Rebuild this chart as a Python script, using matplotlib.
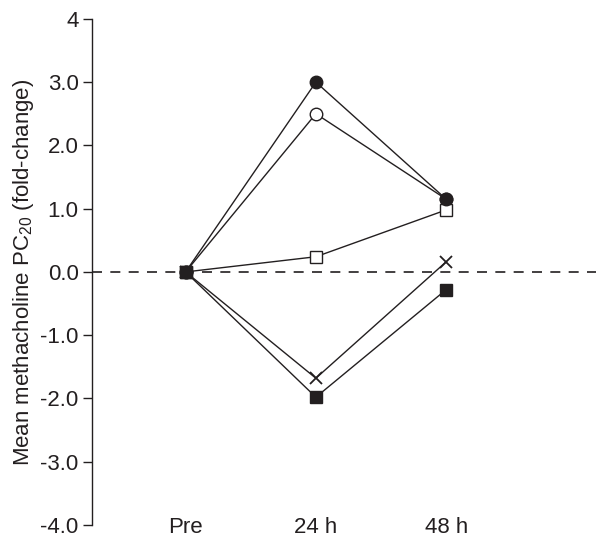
import numpy as np
import matplotlib
matplotlib.use("Agg")
import matplotlib.pyplot as plt

plt.rcParams['font.family'] = ['Liberation Sans', 'DejaVu Sans']
plt.rcParams['mathtext.fontset'] = 'custom'
plt.rcParams['mathtext.rm'] = 'Liberation Sans'
plt.rcParams['mathtext.it'] = 'Liberation Sans'

# Data
timepoints = ['Pre', '24 h', '48 h']
filled_circle = [0.0, 3.0, 1.15]
open_circle = [0.0, 2.5, 1.15]
open_square = [0.0, 0.24, 0.98]
cross = [0.0, -1.68, 0.16]
filled_square = [0.0, -1.98, -0.28]

ink = '#231f20'

fig = plt.figure(figsize=(5.96, 5.39), dpi=100)
ax = fig.add_axes([0.154, 0.026, 0.846, 0.939])

x = np.arange(len(timepoints))

ax.axhline(0, color=ink, lw=1.2, ls=(0, (6, 5)), zorder=1)

ax.plot(x, open_circle, '-o', color=ink, lw=1, ms=9, mfc='white', mec=ink, mew=1, zorder=3)
ax.plot(x, filled_circle, '-o', color=ink, lw=1, ms=9, mfc=ink, mec=ink, zorder=4)
ax.plot(x, open_square, '-s', color=ink, lw=1, ms=8, mfc='white', mec=ink, mew=1, zorder=3)
ax.plot(x, cross, '-x', color=ink, lw=1, ms=9, mew=1.3, zorder=3)
ax.plot(x, filled_square, '-s', color=ink, lw=1, ms=8, mfc=ink, mec=ink, zorder=5)

ax.set_xlim(-0.72, 3.15)
ax.set_ylim(-4, 4)
ax.set_yticks([-4, -3, -2, -1, 0, 1, 2, 3, 4])
ax.set_yticklabels(['-4.0', '-3.0', '-2.0', '-1.0', '0.0', '1.0', '2.0', '3.0', '4'])
ax.set_xticks(x)
ax.set_xticklabels(timepoints)

for s in ['top', 'right', 'bottom']:
    ax.spines[s].set_visible(False)
ax.spines['left'].set_color(ink)
ax.spines['left'].set_linewidth(1)

ax.tick_params(axis='y', direction='out', length=6.5, width=1, color=ink,
               labelsize=16, labelcolor=ink, pad=3)
ax.tick_params(axis='x', length=0, labelsize=16, labelcolor=ink, pad=-6)

ax.set_ylabel('Mean methacholine PC$_{20}$ (fold-change)', fontsize=16, color=ink, labelpad=3)

fig.savefig('out.png', dpi=100)
